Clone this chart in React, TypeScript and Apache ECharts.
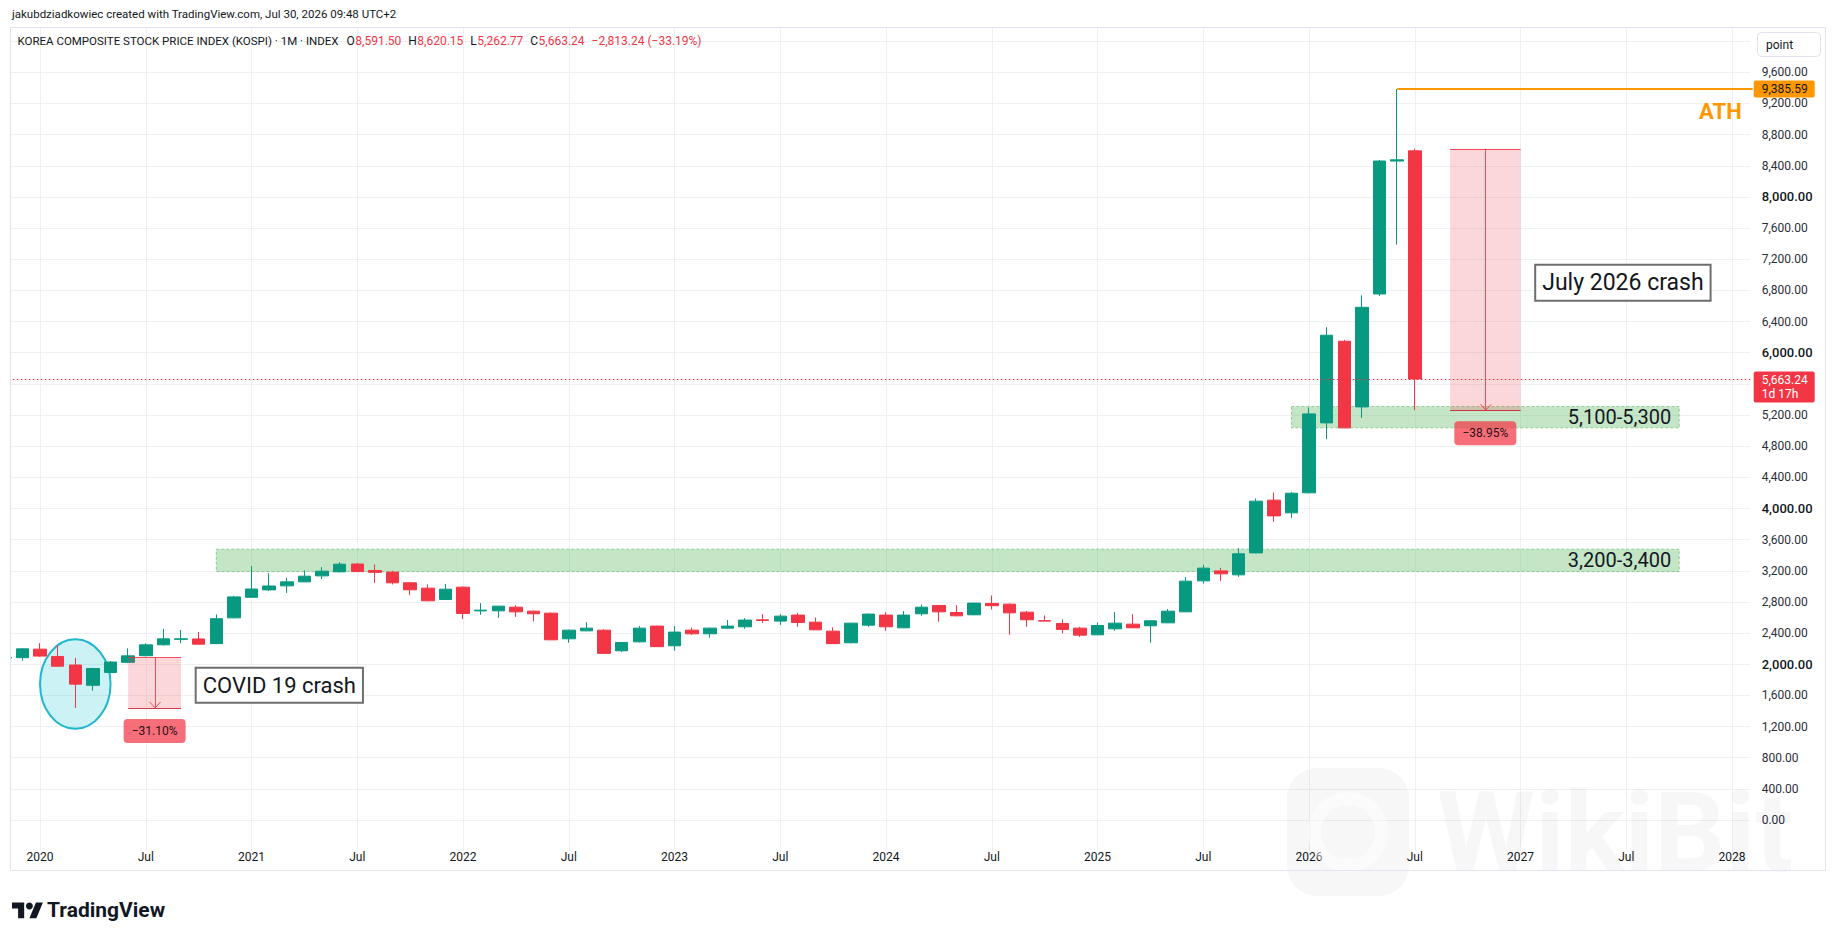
import React, { useEffect, useRef } from "react";
import * as echarts from "echarts";

const W = 1835;
const H = 931;
const FONT = "Roboto, 'Noto Sans', sans-serif";
const UP = "#089981";
const DOWN = "#f23645";
const TEXT = "#131722";
const GRID = "#eef0f3";

try {
  echarts.graphic.registerShape(
    "tvlogo",
    echarts.graphic.extendPath("M14 22H7V11H0V4h14v18ZM28 22h-8l7.5-18h8L28 22Z", {})
  );
} catch (e) {
  /* already registered */
}

// Month categories Nov 2019 .. Feb 2028
const months: string[] = (() => {
  const out: string[] = [];
  let y = 2019;
  let m = 11;
  for (let i = 0; i < 100; i++) {
    out.push(`${y}-${String(m).padStart(2, "0")}`);
    m++;
    if (m > 12) {
      m = 1;
      y++;
    }
  }
  return out;
})();

// Monthly OHLC starting Nov 2019
const openValues = [
  2080, 2085, 2194, 2100, 1990, 1730, 1895, 2025, 2110, 2250, 2320, 2325, 2265, 2596,
  2860, 2955, 3007, 3058, 3135, 3187, 3287, 3204, 3183, 3046, 2977, 2832,
  2990, 2685, 2686, 2733, 2682, 2656, 2327, 2429, 2438, 2173, 2288, 2490,
  2237, 2438, 2391, 2464, 2481, 2570, 2554, 2631, 2541, 2425, 2276, 2502,
  2631, 2468, 2648, 2755, 2665, 2635, 2781, 2772, 2669, 2560, 2524, 2464,
  2378, 2455, 2515, 2494, 2532, 2673, 3071, 3199, 3148, 3430, 4107, 3944,
  4201, 5099, 6147, 5304, 6754, 8461, 8591.5,
];
const highValues = [
  2140, 2205, 2270, 2245, 2080, 1955, 2040, 2205, 2270, 2455, 2440, 2415, 2640, 2878,
  3262, 3170, 3110, 3205, 3247, 3311, 3300, 3282, 3200, 3058, 3025, 3032,
  3000, 2785, 2750, 2759, 2690, 2665, 2445, 2541, 2450, 2285, 2490, 2495,
  2490, 2473, 2470, 2567, 2592, 2644, 2644, 2660, 2601, 2473, 2530, 2650,
  2669, 2682, 2768, 2760, 2759, 2790, 2883, 2780, 2685, 2627, 2576, 2480,
  2537, 2669, 2644, 2565, 2708, 3118, 3276, 3238, 3491, 4128, 4205, 4209,
  5296, 6327, 6165, 6737, 8475, 9385.59, 8620.15,
];
const lowValues = [
  2050, 2045, 2096, 1970, 1439.43, 1660, 1885, 2015, 2100, 2240, 2270, 2255, 2260, 2590,
  2855, 2940, 2917, 3055, 3093, 3180, 3187, 3045, 3025, 2888, 2810, 2825,
  2579, 2635, 2596, 2609, 2550, 2310, 2276, 2425, 2134, 2160, 2280, 2224,
  2173, 2378, 2340, 2460, 2456, 2532, 2506, 2481, 2440, 2263, 2270, 2481,
  2429, 2465, 2622, 2545, 2615, 2630, 2704, 2378, 2481, 2550, 2396, 2352,
  2375, 2429, 2465, 2276, 2530, 2670, 3037, 3071, 3122, 3425, 3828, 3880,
  4195, 4889, 5030, 5163, 6728, 7388, 5262.77,
];
const closeValues = [
  2088, 2198, 2105, 1975, 1745, 1945, 2029, 2108, 2249, 2326, 2327, 2258, 2585, 2865,
  2966, 3005, 3058, 3131, 3195, 3285, 3190, 3180, 3046, 2956, 2815, 2964,
  2652, 2695, 2746, 2673, 2648, 2314, 2438, 2464, 2140, 2280, 2464, 2226,
  2413, 2391, 2464, 2490, 2567, 2562, 2618, 2537, 2442, 2265, 2528, 2644,
  2481, 2631, 2733, 2673, 2622, 2785, 2752, 2660, 2571, 2554, 2447, 2374,
  2498, 2528, 2468, 2558, 2682, 3067, 3234, 3161, 3418, 4094, 3905, 4196,
  5214, 6224, 5035, 6583, 8461, 8476.48, 5663.24,
];

// Horizontal zones drawn on the chart
const zoneFrom = ["2020-11", "2025-12"];
const zoneTo = ["2027-10", "2027-10"];
const zoneLow = [3190, 5035];
const zoneHigh = [3478, 5310];
const zoneLabels = ["3,200-3,400", "5,100-5,300"];

// Measured drops
const measureFrom = ["2020-06", "2026-09"];
const measureTo = ["2020-09", "2027-01"];
const measureTop = [2089.2, 8620.15];
const measureBottom = [1439.43, 5262.77];

const athValue = 9385.59;
const athMonth = "2026-06";
const covidCircle = { month: "2020-03", center: 1746, halfSpanMonths: 2, halfSpanValue: 575 };
const textNotes = [
  { text: "COVID 19 crash", month: "2020-10", value: 1943, size: 22 },
  { text: "July 2026 crash", month: "2027-02", value: 7117, size: 23 },
];

const fmt2 = (v: number) =>
  v.toLocaleString("en-US", { minimumFractionDigits: 2, maximumFractionDigits: 2 });
const minus = (s: string) => s.replace(/-/g, "\u2212");

const isTick = (val: string) => val.endsWith("-01") || val.endsWith("-07");

function measureWidth(text: string, font: string): number {
  const c = document.createElement("canvas").getContext("2d");
  if (!c) return text.length * 6.2;
  c.font = font;
  return c.measureText(text).width;
}

export default function App() {
  const ref = useRef<HTMLDivElement>(null);

  useEffect(() => {
    if (!ref.current) return;
    const chart = echarts.init(ref.current, null, { renderer: "svg", width: W, height: H });

    const candleData = openValues.map((o, i) => [o, closeValues[i], lowValues[i], highValues[i]]);

    chart.setOption({
      animation: false,
      backgroundColor: "#ffffff",
      grid: { left: 4.8, right: 85.3, top: 10, height: 841.2 },
      xAxis: {
        type: "category",
        data: months,
        boundaryGap: false,
        axisLine: { show: false },
        axisTick: { show: false },
        axisLabel: {
          interval: (_i: number, val: string) => isTick(val),
          formatter: (val: string) => (val.endsWith("-01") ? val.slice(0, 4) : "Jul"),
          color: TEXT,
          fontFamily: FONT,
          fontSize: 12,
          margin: 0,
        },
        splitLine: {
          show: true,
          interval: (_i: number, val: string) => isTick(val),
          lineStyle: { color: GRID, width: 1 },
        },
      },
      yAxis: {
        type: "value",
        position: "right",
        min: -400,
        max: 10400,
        interval: 400,
        scale: false,
        axisLine: { show: false },
        axisTick: { show: false },
        axisLabel: {
          margin: 12,
          align: "left",
          formatter: (v: number) => {
            if (v < 0 || v > 9600) return "";
            const s = fmt2(v);
            return v > 0 && v % 2000 === 0 ? `{b|${s}}` : `{n|${s}}`;
          },
          rich: {
            n: { fontSize: 12, color: "#2a2e39", fontFamily: FONT },
            b: { fontSize: 13, color: TEXT, fontFamily: FONT, fontWeight: 500 },
          },
        },
        splitLine: {
          show: true,
          showMinLine: false,
          showMaxLine: false,
          lineStyle: { color: GRID, width: 1 },
        },
      },
      series: [
        {
          type: "candlestick",
          name: "KOSPI",
          data: candleData,
          barWidth: 13,
          silent: true,
          z: 3,
          itemStyle: {
            color: UP,
            color0: DOWN,
            borderColor: UP,
            borderColor0: DOWN,
            borderWidth: 1,
          },
        },
      ],
    });

    const px = (i: number, v: number) => chart.convertToPixel({ gridIndex: 0 }, [i, v]) as number[];
    const X = (m: string) => px(months.indexOf(m), 0)[0];
    const Y = (v: number) => px(0, v)[1];
    const gridR = px(months.length - 1, 0)[0];
    const gridL = px(0, 0)[0];

    const g: any[] = [];

    // Watermark
    g.push({
      type: "rect", z: 1, silent: true,
      shape: { x: 1287, y: 768, width: 122, height: 128, r: 30 },
      style: { fill: "rgba(0,0,0,0.032)" },
    });
    g.push({
      type: "ring", z: 1, silent: true,
      shape: { cx: 1348, cy: 832, r: 40, r0: 27 },
      style: { fill: "rgba(255,255,255,0.45)" },
    });
    g.push({
      type: "text", z: 1, silent: true, x: 1437, y: 832,
      style: {
        text: "WikiBit", fontFamily: FONT, fontWeight: "bold", fontSize: 112,
        fill: "rgba(0,0,0,0.032)", verticalAlign: "middle", align: "left",
      },
    });

    // Zones (below candles)
    zoneFrom.forEach((from, i) => {
      const x1 = X(from);
      const x2 = X(zoneTo[i]);
      const y1 = Y(zoneHigh[i]);
      const y2 = Y(zoneLow[i]);
      g.push({
        type: "rect", z: 2, silent: true,
        shape: { x: x1, y: y1, width: x2 - x1, height: y2 - y1 },
        style: { fill: "rgba(76,175,80,0.32)", stroke: "rgba(76,175,80,0.55)", lineWidth: 1, lineDash: [3, 2] },
      });
      g.push({
        type: "text", z: 8, silent: true, x: x2 - 8, y: (y1 + y2) / 2,
        style: {
          text: zoneLabels[i], fontFamily: FONT, fontSize: 20, fill: TEXT,
          align: "right", verticalAlign: "middle",
        },
      });
    });

    // Covid ellipse
    {
      const ci = months.indexOf(covidCircle.month);
      const cx = px(ci, 0)[0];
      const rx = px(ci + covidCircle.halfSpanMonths, 0)[0] - cx;
      const cy = Y(covidCircle.center);
      const ry = Y(covidCircle.center - covidCircle.halfSpanValue) - cy;
      g.push({
        type: "ellipse", z: 2, silent: true,
        shape: { cx, cy, rx, ry },
        style: { fill: "rgba(0,188,212,0.2)", stroke: "#22b5cf", lineWidth: 2 },
      });
    }

    // Measures
    measureFrom.forEach((from, i) => {
      const x1 = X(from);
      const x2 = X(measureTo[i]);
      const y1 = Y(measureTop[i]);
      const y2 = Y(measureBottom[i]);
      const xm = (x1 + x2) / 2;
      g.push({
        type: "rect", z: 6, silent: true,
        shape: { x: x1, y: y1, width: x2 - x1, height: y2 - y1 },
        style: { fill: "rgba(242,54,69,0.2)" },
      });
      g.push({
        type: "line", z: 7, silent: true,
        shape: { x1, y1: Math.round(y1) + 0.5, x2, y2: Math.round(y1) + 0.5 },
        style: { stroke: "rgba(242,54,69,0.85)", lineWidth: 1 },
      });
      g.push({
        type: "line", z: 7, silent: true,
        shape: { x1, y1: Math.round(y2) + 0.5, x2, y2: Math.round(y2) + 0.5 },
        style: { stroke: "rgba(200,40,50,0.9)", lineWidth: 1 },
      });
      g.push({
        type: "line", z: 7, silent: true,
        shape: { x1: Math.round(xm) + 0.5, y1, x2: Math.round(xm) + 0.5, y2 },
        style: { stroke: "rgba(242,54,69,0.85)", lineWidth: 1 },
      });
      g.push({
        type: "polyline", z: 7, silent: true,
        shape: { points: [[xm - 5, y2 - 6], [xm + 0.5, y2], [xm + 6, y2 - 6]] },
        style: { stroke: "rgba(242,54,69,0.85)", lineWidth: 1, fill: null },
      });
      const pct = (measureBottom[i] / measureTop[i] - 1) * 100;
      g.push({
        type: "rect", z: 8, silent: true,
        shape: { x: xm - 31, y: y2 + 11, width: 62, height: 24, r: 4 },
        style: { fill: "rgba(242,54,69,0.72)" },
      });
      g.push({
        type: "text", z: 9, silent: true, x: xm, y: y2 + 23,
        style: {
          text: minus(pct.toFixed(2)) + "%", fontFamily: FONT, fontSize: 12, fill: "#2a1216",
          align: "center", verticalAlign: "middle",
        },
      });
    });

    // Text notes
    textNotes.forEach((n) => {
      g.push({
        type: "text", z: 9, silent: true, x: X(n.month) - 2, y: Y(n.value),
        style: {
          text: n.text, fontFamily: FONT, fontSize: n.size, fill: TEXT,
          lineHeight: n.size + 3, align: "left", verticalAlign: "top",
          backgroundColor: "#ffffff", borderColor: "#6e6e6e", borderWidth: 2,
          padding: [4, 6, 4, 6],
        },
      });
    });

    // ATH line and label
    const yAth = Y(athValue);
    g.push({
      type: "line", z: 7, silent: true,
      shape: { x1: X(athMonth), y1: yAth, x2: gridR + 3, y2: yAth },
      style: { stroke: "#ff9800", lineWidth: 2 },
    });
    g.push({
      type: "text", z: 8, silent: true, x: gridR - 8, y: yAth + 22,
      style: {
        text: "ATH", fontFamily: FONT, fontSize: 22, fontWeight: "bold", fill: "#ff9800",
        align: "right", verticalAlign: "middle",
      },
    });
    g.push({
      type: "rect", z: 8, silent: true,
      shape: { x: gridR + 4, y: yAth - 8.5, width: 61, height: 17, r: 2 },
      style: { fill: "#ff9800" },
    });
    g.push({
      type: "text", z: 9, silent: true, x: gridR + 12, y: yAth,
      style: { text: fmt2(athValue), fontFamily: FONT, fontSize: 12, fill: TEXT, verticalAlign: "middle" },
    });

    // Current price line and label
    const last = closeValues[closeValues.length - 1];
    const prev = closeValues[closeValues.length - 2];
    const yCur = Y(last);
    g.push({
      type: "line", z: 5, silent: true,
      shape: { x1: gridL, y1: Math.round(yCur) + 0.5, x2: gridR + 3, y2: Math.round(yCur) + 0.5 },
      style: { stroke: "#e0303f", lineWidth: 1, lineDash: [1.5, 2.5] },
    });
    g.push({
      type: "rect", z: 8, silent: true,
      shape: { x: gridR + 4, y: yCur - 7.5, width: 61, height: 31, r: 2 },
      style: { fill: DOWN },
    });
    g.push({
      type: "text", z: 9, silent: true, x: gridR + 12, y: yCur + 1,
      style: { text: fmt2(last), fontFamily: FONT, fontSize: 12, fill: "#ffffff", verticalAlign: "middle" },
    });
    g.push({
      type: "text", z: 9, silent: true, x: gridR + 12, y: yCur + 15,
      style: { text: "1d 17h", fontFamily: FONT, fontSize: 12, fill: "#ffffff", verticalAlign: "middle" },
    });

    // Covers outside pane
    g.push({ type: "rect", z: 20, silent: true, shape: { x: 0, y: 0, width: W, height: 27 }, style: { fill: "#ffffff" } });
    g.push({ type: "rect", z: 20, silent: true, shape: { x: 0, y: 0, width: 10, height: H }, style: { fill: "#ffffff" } });
    // Frame
    g.push({
      type: "rect", z: 21, silent: true,
      shape: { x: 10.5, y: 27.5, width: 1815, height: 843 },
      style: { fill: null, stroke: "#e0e3eb", lineWidth: 1 },
    });

    // Header
    g.push({
      type: "text", z: 30, silent: true, x: 12, y: 14,
      style: {
        text: "jakubdziadkowiec created with TradingView.com, Jul 30, 2026 09:48 UTC+2",
        fontFamily: FONT, fontSize: 11.5, fill: TEXT, verticalAlign: "middle",
      },
    });
    const lo = openValues[openValues.length - 1];
    const lh = highValues[highValues.length - 1];
    const ll = lowValues[lowValues.length - 1];
    const chg = last - prev;
    const chgPct = (chg / prev) * 100;
    const segs: [string, string, number, number][] = [
      ["KOREA COMPOSITE STOCK PRICE INDEX (KOSPI) \u00b7 1M \u00b7 INDEX", TEXT, 11.5, 8],
      ["O", TEXT, 12, 0.5],
      [fmt2(lo), DOWN, 12, 7],
      ["H", TEXT, 12, 0.5],
      [fmt2(lh), DOWN, 12, 7],
      ["L", TEXT, 12, 0.5],
      [fmt2(ll), DOWN, 12, 7],
      ["C", TEXT, 12, 0.5],
      [fmt2(last), DOWN, 12, 7],
      [`${minus(fmt2(chg))} (${minus(chgPct.toFixed(2))}%)`, DOWN, 12, 0],
    ];
    let lx = 17.5;
    segs.forEach(([t, c, fs, gap]) => {
      g.push({
        type: "text", z: 30, silent: true, x: lx, y: 41,
        style: { text: t, fontFamily: FONT, fontSize: fs, fill: c, verticalAlign: "middle" },
      });
      lx += measureWidth(t, `${fs}px ${FONT}`) + gap;
    });
    g.push({
      type: "rect", z: 30, silent: true,
      shape: { x: 1757.5, y: 32.5, width: 63, height: 24, r: 4 },
      style: { fill: "#ffffff", stroke: "#e0e3eb", lineWidth: 1 },
    });
    g.push({
      type: "text", z: 31, silent: true, x: 1766, y: 44.5,
      style: { text: "point", fontFamily: FONT, fontSize: 12, fill: TEXT, verticalAlign: "middle" },
    });

    // TradingView logo
    g.push({
      type: "tvlogo", z: 30, silent: true, x: 12, y: 899, scaleX: 0.87, scaleY: 0.87,
      style: { fill: TEXT },
    });
    g.push({
      type: "circle", z: 30, silent: true,
      shape: { cx: 12 + 20 * 0.87, cy: 899 + 8 * 0.87, r: 4 * 0.87 },
      style: { fill: TEXT },
    });
    g.push({
      type: "text", z: 30, silent: true, x: 47, y: 910,
      style: {
        text: "TradingView", fontFamily: FONT, fontSize: 21, fontWeight: "bold", fill: TEXT,
        verticalAlign: "middle",
      },
    });

    chart.setOption({ graphic: { elements: g } });

    return () => {
      chart.dispose();
    };
  }, []);

  return (
    <div style={{ position: "fixed", left: 0, top: 0, width: W, height: H, background: "#ffffff" }}>
      <div ref={ref} style={{ width: W, height: H }} />
    </div>
  );
}
